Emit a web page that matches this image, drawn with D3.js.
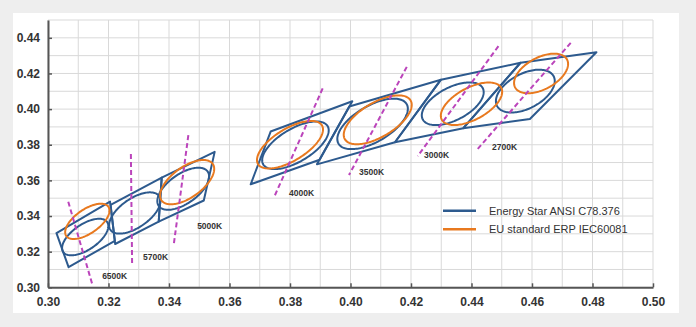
<!DOCTYPE html>
<html>
<head>
<meta charset="utf-8">
<script src="https://cdn.jsdelivr.net/npm/d3@7/dist/d3.min.js"></script>
<style>
  html, body { margin: 0; padding: 0; background: #eeeeee; }
  svg { display: block; }
</style>
</head>
<body>
<svg id="chart" width="696" height="327"></svg>
<script>
// Axis tick labels (CIE 1931 x, y chromaticity)
const xTicks = [0.30, 0.32, 0.34, 0.36, 0.38, 0.40, 0.42, 0.44, 0.46, 0.48, 0.50];
const yTicks = [0.30, 0.32, 0.34, 0.36, 0.38, 0.40, 0.42, 0.44];

// Nominal CCT categories
const ccts = ["6500K", "5700K", "5000K", "4000K", "3500K", "3000K", "2700K"];

// ANSI C78.377 quadrangles, corners in order (x, y)
const quadrangles = [
  [[0.3028, 0.3304], [0.3205, 0.3481], [0.3221, 0.3261], [0.3068, 0.3113]],
  [[0.3207, 0.3462], [0.3376, 0.3616], [0.3366, 0.3369], [0.3222, 0.3243]],
  [[0.3376, 0.3616], [0.3551, 0.3760], [0.3515, 0.3487], [0.3366, 0.3369]],
  [[0.3736, 0.3874], [0.4006, 0.4044], [0.3898, 0.3716], [0.3670, 0.3578]],
  [[0.3996, 0.4015], [0.4299, 0.4165], [0.4147, 0.3814], [0.3889, 0.3690]],
  [[0.4299, 0.4165], [0.4562, 0.4260], [0.4373, 0.3893], [0.4147, 0.3814]],
  [[0.4562, 0.4260], [0.4813, 0.4319], [0.4593, 0.3944], [0.4373, 0.3893]]
];

// Energy Star tolerance ellipses: centre x, centre y, semi-axes a, b, tilt (deg)
const energyStarCx    = [0.3123, 0.3287, 0.3447, 0.3818, 0.4073, 0.4338, 0.4578];
const energyStarCy    = [0.3282, 0.3417, 0.3553, 0.3797, 0.3917, 0.4030, 0.4101];
const energyStarA     = [0.0116, 0.0130, 0.0132, 0.0157, 0.0165, 0.0139, 0.0134];
const energyStarB     = [0.0054, 0.0061, 0.0062, 0.0073, 0.0080, 0.0074, 0.0077];
const energyStarTheta = [58.2, 59.0, 59.6, 53.7, 54.0, 53.1, 57.2];

// EU ERP / IEC 60081 tolerance ellipses (no 5700K entry)
const euCct   = ["6500K", "5000K", "4000K", "3500K", "3000K", "2700K"];
const euCx    = [0.3130, 0.3460, 0.3800, 0.4090, 0.4400, 0.4630];
const euCy    = [0.3370, 0.3590, 0.3800, 0.3940, 0.4030, 0.4200];
const euA     = [0.0112, 0.0139, 0.0157, 0.0160, 0.0139, 0.0124];
const euB     = [0.0051, 0.0064, 0.0071, 0.0076, 0.0072, 0.0070];
const euTheta = [58.2, 59.6, 53.7, 54.0, 53.1, 57.2];

// Isotemperature lines: start (x, y) and end (x, y)
const isoX1 = [0.3067, 0.3274, 0.3464, 0.3908, 0.4186, 0.4489, 0.4728];
const isoY1 = [0.3480, 0.3748, 0.3854, 0.4116, 0.4237, 0.4353, 0.4372];
const isoX2 = [0.3147, 0.3278, 0.3416, 0.3748, 0.3995, 0.4222, 0.4417];
const isoY2 = [0.3013, 0.3135, 0.3243, 0.3508, 0.3630, 0.3736, 0.3770];

// CCT label anchors (left x, middle y)
const labelX = [0.3179, 0.3314, 0.3493, 0.3797, 0.4028, 0.4243, 0.4468];
const labelY = [0.3063, 0.3170, 0.3344, 0.3529, 0.3647, 0.3742, 0.3787];

const legendLabels = ["Energy Star ANSI C78.376", "EU standard ERP IEC60081"];

const BLUE = "#2d5a8e";
const ORANGE = "#e8791f";
const MAGENTA = "#bb44bb";
const FONT = "'Liberation Sans', Arial, Helvetica, sans-serif";

const svg = d3.select("#chart");

// white card behind the plot
svg.append("rect")
  .attr("x", 13).attr("y", 13).attr("width", 666).attr("height", 300)
  .attr("fill", "#ffffff");

const x = d3.scaleLinear().domain([0.30, 0.50]).range([48, 653]);
const y = d3.scaleLinear().domain([0.30, 0.45]).range([287.3, 20]);

// fine grid, one line every 0.01
const grid = svg.append("g").attr("stroke", "#d9d9d9").attr("stroke-width", 1);
grid.selectAll("line.gx").data(x.ticks(20)).join("line")
  .attr("class", "gx")
  .attr("x1", d => x(d)).attr("x2", d => x(d))
  .attr("y1", y.range()[0]).attr("y2", y.range()[1]);
grid.selectAll("line.gy").data(y.ticks(15)).join("line")
  .attr("class", "gy")
  .attr("x1", x.range()[0]).attr("x2", x.range()[1])
  .attr("y1", d => y(d)).attr("y2", d => y(d));

const plot = svg.append("g");

// quadrangles
const quadLine = d3.line().x(d => x(d[0])).y(d => y(d[1])).curve(d3.curveLinearClosed);
plot.selectAll("path.quad").data(quadrangles).join("path")
  .attr("class", "quad")
  .attr("d", quadLine)
  .attr("fill", "none").attr("stroke", BLUE).attr("stroke-width", 2)
  .attr("stroke-linejoin", "round");

// ellipse outline sampled in chromaticity space, then mapped through the scales
function ellipsePoints(cx, cy, a, b, thetaDeg) {
  const th = thetaDeg * Math.PI / 180;
  const c = Math.cos(th), s = Math.sin(th);
  return d3.range(0, 144).map(i => {
    const t = i / 144 * 2 * Math.PI;
    return [cx + a * c * Math.cos(t) - b * s * Math.sin(t),
            cy + a * s * Math.cos(t) + b * c * Math.sin(t)];
  });
}

const energyStar = ccts.map((k, i) => ellipsePoints(energyStarCx[i], energyStarCy[i], energyStarA[i], energyStarB[i], energyStarTheta[i]));
const eu = euCct.map((k, i) => ellipsePoints(euCx[i], euCy[i], euA[i], euB[i], euTheta[i]));

plot.selectAll("path.es").data(energyStar).join("path")
  .attr("class", "es")
  .attr("d", quadLine)
  .attr("fill", "none").attr("stroke", BLUE).attr("stroke-width", 2);

plot.selectAll("path.eu").data(eu).join("path")
  .attr("class", "eu")
  .attr("d", quadLine)
  .attr("fill", "none").attr("stroke", ORANGE).attr("stroke-width", 2);

// isotemperature lines
plot.selectAll("line.iso").data(ccts).join("line")
  .attr("class", "iso")
  .attr("x1", (d, i) => x(isoX1[i])).attr("y1", (d, i) => y(isoY1[i]))
  .attr("x2", (d, i) => x(isoX2[i])).attr("y2", (d, i) => y(isoY2[i]))
  .attr("stroke", MAGENTA).attr("stroke-width", 2)
  .attr("stroke-dasharray", "5,3");

// CCT labels
plot.selectAll("text.cct").data(ccts).join("text")
  .attr("class", "cct")
  .attr("x", (d, i) => x(labelX[i])).attr("y", (d, i) => y(labelY[i]))
  .attr("dy", "0.35em")
  .attr("font-family", FONT).attr("font-size", 8.5).attr("font-weight", "bold")
  .attr("fill", "#333333")
  .text(d => d);

// axes
const fmt = d3.format(".2f");
const xAxis = svg.append("g")
  .attr("transform", `translate(0,${y(0.30)})`)
  .call(d3.axisBottom(x).tickValues(xTicks).tickFormat(fmt).tickSize(-4).tickSizeOuter(0).tickPadding(10));
const yAxis = svg.append("g")
  .attr("transform", `translate(${x(0.30)},0)`)
  .call(d3.axisLeft(y).tickValues(yTicks).tickFormat(fmt).tickSize(-4).tickSizeOuter(0).tickPadding(8));

[xAxis, yAxis].forEach(g => {
  g.select(".domain").attr("stroke", "#555555").attr("stroke-width", 2);
  g.selectAll(".tick line").attr("stroke", "#555555").attr("stroke-width", 1.5);
  g.selectAll(".tick text")
    .attr("font-family", FONT).attr("font-size", 12).attr("font-weight", "bold")
    .attr("fill", "#333333");
});

// legend
const legendColors = [BLUE, ORANGE];
const legend = svg.append("g");
const li = legend.selectAll("g").data(legendLabels).join("g")
  .attr("transform", (d, i) => `translate(443,${210.7 + i * 18.6})`);
li.append("line")
  .attr("x1", 0).attr("x2", 33).attr("y1", 0).attr("y2", 0)
  .attr("stroke", (d, i) => legendColors[i]).attr("stroke-width", 2.5);
li.append("text")
  .attr("x", 46).attr("y", 0).attr("dy", "0.35em")
  .attr("font-family", FONT).attr("font-size", 11)
  .attr("fill", "#333333")
  .text(d => d);
</script>
</body>
</html>
